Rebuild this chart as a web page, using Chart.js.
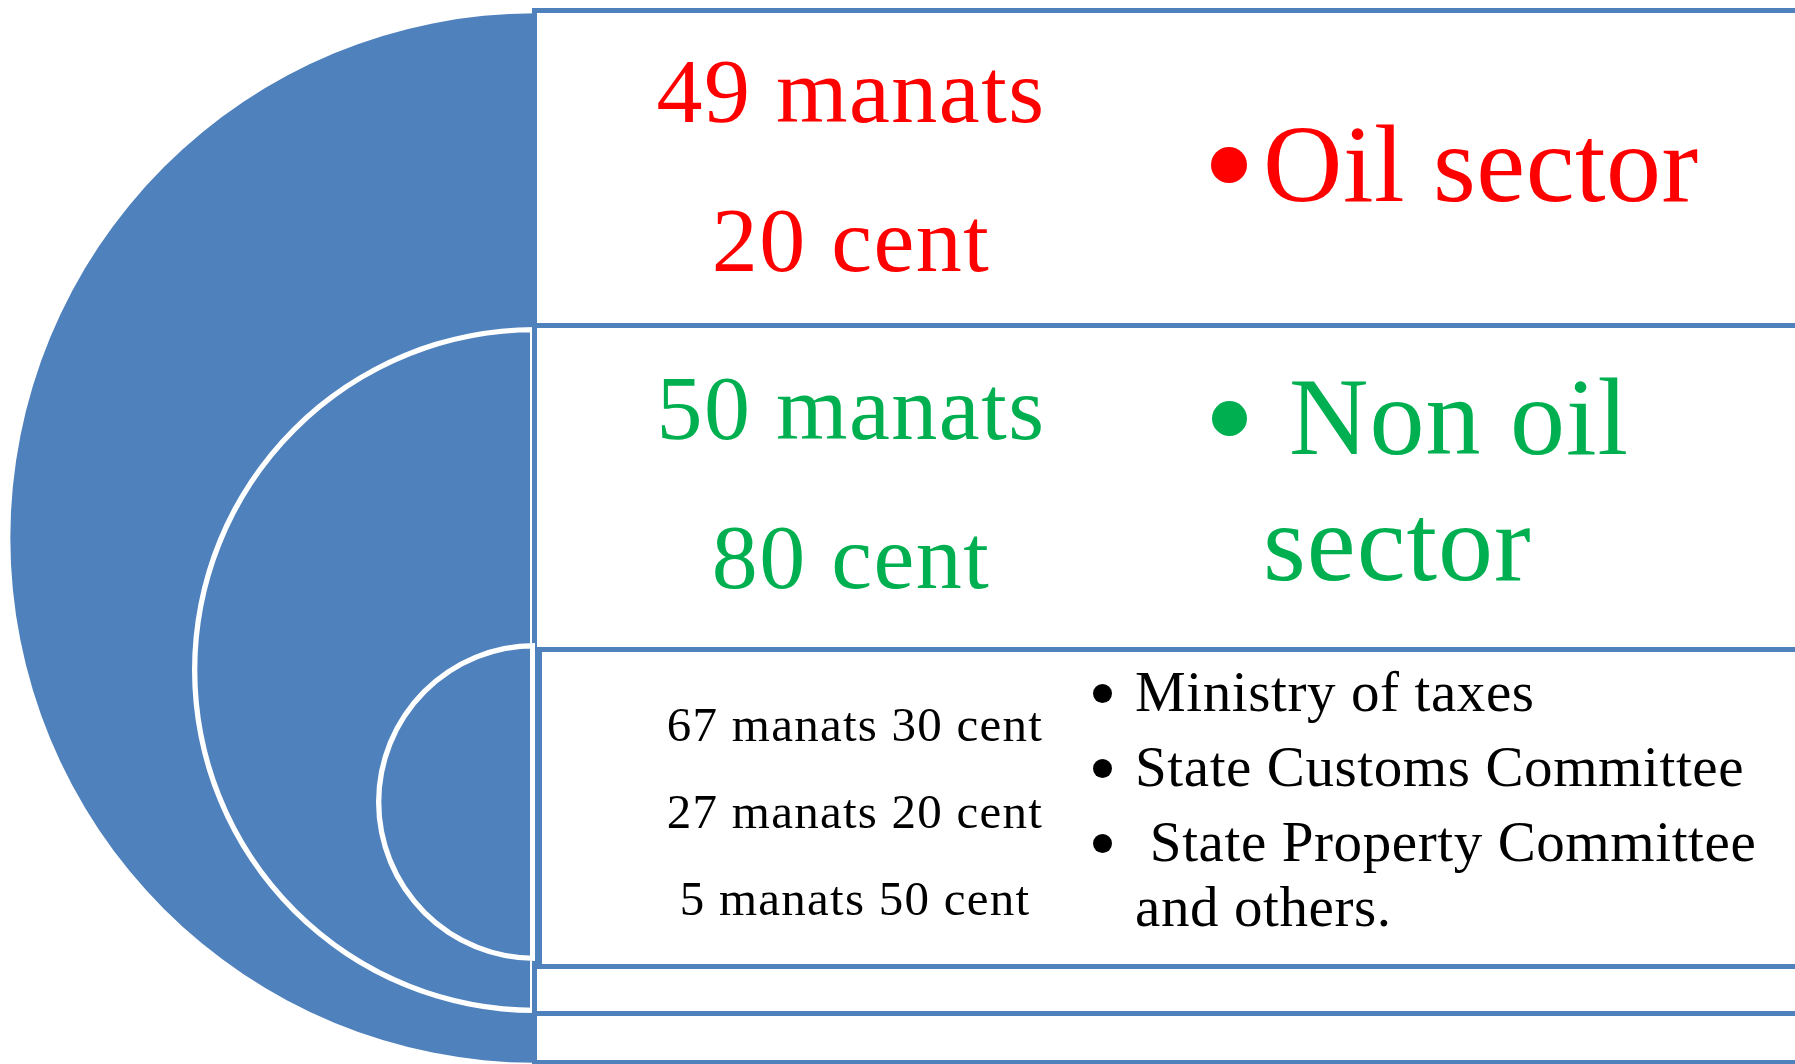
<!DOCTYPE html>
<html>
<head>
<meta charset="utf-8">
<script src="https://cdn.jsdelivr.net/npm/chart.js@4.4.1/dist/chart.umd.min.js"></script>
<style>
  body {
    margin: 0;
    width: 1795px;
    height: 1064px;
    overflow: hidden;
    position: relative;
    background: #fff;
    font-family: "Liberation Serif", "DejaVu Serif", serif;
  }
  .ring { position: absolute; }
  .box {
    position: absolute;
    box-sizing: border-box;
    border: 5px solid #4f81bd;
    background: #fff;
  }
  .txt { position: absolute; white-space: pre-wrap; }
  .dot { position: absolute; border-radius: 50%; }
</style>
</head>
<body>
<script>
// data
const sectors = ['Oil sector', 'Non oil sector'];
const sectorManats = [49, 50];
const sectorCents = [20, 80];
const bodies = ['Ministry of taxes', 'State Customs Committee', ' State Property Committee and others.'];
const bodyManats = [67, 27, 5];
const bodyCents = [30, 20, 50];

// colors
const blue = '#4f81bd';
const sectorColors = ['#ff0000', '#00b050'];

// layout: the three half discs share the right edge x = 535
const edgeX = 535;
const rings = [
  { top: 13, r: 525, border: 0 },
  { top: 327, r: 343, border: 5 },
  { top: 643, r: 159, border: 5 }
];
const boxes = [
  { left: 532, top: 8, height: 1057 },
  { left: 532, top: 323, height: 693 },
  { left: 537, top: 647, height: 322 }
];

// baseline offset for Liberation Serif (ascent .891, descent .216)
function topFor(baseline, size, lh) {
  return baseline - ((lh - 1.107 * size) / 2 + 0.891 * size);
}

function addText(str, o) {
  const el = document.createElement('div');
  el.className = 'txt';
  el.textContent = str;
  const lh = o.lh || o.size;
  el.style.fontSize = o.size + 'px';
  el.style.lineHeight = lh + 'px';
  el.style.color = o.color;
  el.style.letterSpacing = (o.spacing || 0) + 'px';
  el.style.top = topFor(o.base, o.size, lh) + 'px';
  if (o.center !== undefined) {
    el.style.left = (o.center - 400) + 'px';
    el.style.width = '800px';
    el.style.textAlign = 'center';
  } else {
    el.style.left = o.left + 'px';
    el.style.width = o.width + 'px';
  }
  if (o.indent) el.style.textIndent = o.indent + 'px';
  document.body.appendChild(el);
}

function addDot(x, y, d, color) {
  const el = document.createElement('div');
  el.className = 'dot';
  el.style.left = (x - d / 2) + 'px';
  el.style.top = (y - d / 2) + 'px';
  el.style.width = d + 'px';
  el.style.height = d + 'px';
  el.style.background = color;
  document.body.appendChild(el);
}

// one left half pie per level
function addRing(i, label, value) {
  const g = rings[i];
  const canvas = document.createElement('canvas');
  canvas.className = 'ring';
  canvas.width = g.r;
  canvas.height = g.r * 2;
  canvas.style.left = (edgeX - g.r) + 'px';
  canvas.style.top = g.top + 'px';
  document.body.appendChild(canvas);

  new Chart(canvas, {
    type: 'pie',
    data: {
      labels: [label],
      datasets: [{
        data: [value],
        backgroundColor: blue,
        borderColor: '#ffffff',
        borderWidth: g.border,
        hoverBorderWidth: g.border,
        borderAlign: 'inner'
      }]
    },
    options: {
      responsive: false,
      animation: false,
      events: [],
      rotation: 180,
      circumference: 180,
      layout: { padding: 0 },
      plugins: {
        legend: { display: false },
        tooltip: { enabled: false }
      }
    }
  });
}

function addBox(i) {
  const b = boxes[i];
  const el = document.createElement('div');
  el.className = 'box';
  el.style.left = b.left + 'px';
  el.style.top = b.top + 'px';
  el.style.width = (1795 - b.left + 20) + 'px';
  el.style.height = b.height + 'px';
  document.body.appendChild(el);
}

const money = (m, c) => m + ' manats ' + c + ' cent';
const bodyTotal = bodyManats.reduce((s, m, i) => s + m + bodyCents[i] / 100, 0);

// stack: ring, box, ring, box ...
sectors.forEach((s, i) => {
  addRing(i, s, sectorManats[i] + sectorCents[i] / 100);
  addBox(i);
});
addRing(2, 'Other bodies', bodyTotal);
addBox(2);

// sector values and names
const sectorBase = [122, 439];
sectors.forEach((s, i) => {
  const color = sectorColors[i];
  addText(sectorManats[i] + ' manats', { center: 851, base: sectorBase[i], size: 92, lh: 92, color, spacing: 1.5 });
  addText(sectorCents[i] + ' cent', { center: 851, base: sectorBase[i] + 149, size: 92, lh: 92, color, spacing: 1.5 });
});

addDot(1229, 165, 36, sectorColors[0]);
addText(sectors[0], { left: 1263, width: 520, base: 201, size: 110, lh: 126, color: sectorColors[0], spacing: 0.5 });

addDot(1229, 418, 35, sectorColors[1]);
addText(sectors[1], { left: 1263, width: 520, indent: 26, base: 454, size: 110, lh: 126, color: sectorColors[1], spacing: 1 });

// inner level: amounts and bodies
bodyManats.forEach((m, i) => {
  addText(money(m, bodyCents[i]), { center: 855, base: 741 + i * 87, size: 49, lh: 49, color: '#000', spacing: 1.25 });
});

bodies.forEach((b, i) => {
  const base = 711 + i * 75;
  addDot(1102, base - 18, 19, '#000');
  addText(b, { left: 1135, width: 640, base, size: 57, lh: 65, color: '#000', spacing: 0.6 });
});
</script>
</body>
</html>
